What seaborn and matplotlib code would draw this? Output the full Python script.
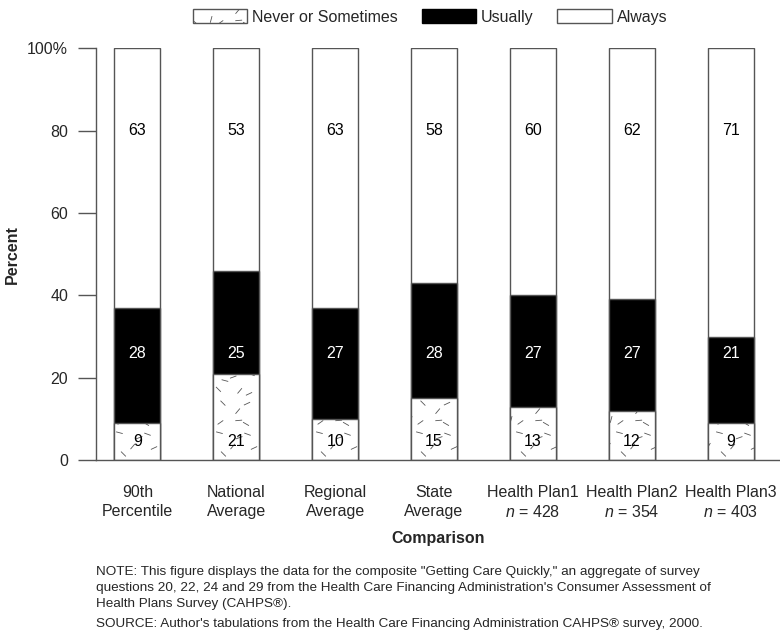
import warnings
warnings.filterwarnings("ignore")
import numpy as np
import pandas as pd
import matplotlib
matplotlib.use("Agg")
import matplotlib.pyplot as plt
import matplotlib.hatch as mhatch
from matplotlib.path import Path
from matplotlib.patches import Patch
import seaborn as sns

# ---------------- data ----------------
categories = ["90th\nPercentile", "National\nAverage", "Regional\nAverage", "State\nAverage",
              "Health Plan1\n$n$ = 428", "Health Plan2\n$n$ = 354", "Health Plan3\n$n$ = 403"]
never_sometimes = [9, 21, 10, 15, 13, 12, 9]
usually = [28, 25, 27, 28, 27, 27, 21]
always = [63, 53, 63, 58, 60, 62, 71]
series_names = ["Never or Sometimes", "Usually", "Always"]
yticks = [0, 20, 40, 60, 80, 100]
ytick_labels = ["0", "20", "40", "60", "80", "100%"]

note_text = ("NOTE: This figure displays the data for the composite \"Getting Care Quickly,\" an aggregate of survey\n"
             "questions 20, 22, 24 and 29 from the Health Care Financing Administration's Consumer Assessment of\n"
             "Health Plans Survey (CAHPS\u00ae).")
source_text = "SOURCE: Author's tabulations from the Health Care Financing Administration CAHPS\u00ae survey, 2000."

# ---------------- custom "scattered dash" texture (style only) ----------------
_ANGLES = [60, -30, 90, 20, -60, -45, 10, 75, -20, 0, 50, -70, 35, 80, -80, 25, -40, 5, 40, -15, 65]
_JIT = [0.02, -0.03, 0.04, -0.01, 0.03, -0.04, 0.01, -0.02, 0.035, -0.025, 0.015]
_DASHES = []
_k = 0
for _r in range(7):
    for _c in range(7):
        cx = (_c + 0.5) / 7 + _JIT[_k % len(_JIT)]
        cy = (_r + 0.5) / 7 + _JIT[(_k * 3 + 5) % len(_JIT)]
        _DASHES.append((cx, cy, _ANGLES[(_k * 5) % len(_ANGLES)]))
        _k += 1
_DLEN = 0.06


class _DashHatch(mhatch.HatchPatternBase):
    def __init__(self, hatch, density):
        self.num_vertices = 2 * len(_DASHES) if "~" in hatch else 0

    def set_vertices_and_codes(self, vertices, codes):
        for i, (cx, cy, ang) in enumerate(_DASHES):
            a = np.deg2rad(ang)
            dx, dy = 0.5 * _DLEN * np.cos(a), 0.5 * _DLEN * np.sin(a)
            vertices[2 * i] = (cx - dx, cy - dy)
            vertices[2 * i + 1] = (cx + dx, cy + dy)
            codes[2 * i] = Path.MOVETO
            codes[2 * i + 1] = Path.LINETO


mhatch._hatch_types.append(_DashHatch)
mhatch._validate_hatch_pattern = lambda h: None

# ---------------- style ----------------
sns.set_theme(style="white")
plt.rcParams["font.family"] = ["Liberation Sans", "DejaVu Sans"]
plt.rcParams["mathtext.fontset"] = "custom"
plt.rcParams["mathtext.it"] = "Liberation Sans:italic"
plt.rcParams["mathtext.rm"] = "Liberation Sans"
plt.rcParams["hatch.linewidth"] = 0.6
plt.rcParams["hatch.color"] = "black"

EDGE = "#555555"
FS = 11.5

df = pd.DataFrame({"cat": categories, "never": never_sometimes, "usually": usually, "always": always})
df["cum_usual"] = df["never"] + df["usually"]
df["total"] = 100  # percent bars

fig = plt.figure(figsize=(7.8, 6.33), dpi=100)
ax = fig.add_axes([0.123, 0.273, 0.877, 0.651])

common = dict(x="cat", order=categories, width=0.465, saturation=1, edgecolor=EDGE,
              linewidth=1.0, ax=ax, errorbar=None)
sns.barplot(data=df, y="total", color="white", **common)
sns.barplot(data=df, y="cum_usual", color="black", **common)
sns.barplot(data=df, y="never", color="white", hatch="~", **common)

# value labels
for i, row in df.iterrows():
    ax.text(i, 80, f"{row['always']}", ha="center", va="center", fontsize=FS, color="black")
    ax.text(i, 26, f"{row['usually']}", ha="center", va="center", fontsize=FS, color="white")
    ax.text(i, 4.5, f"{row['never']}", ha="center", va="center", fontsize=FS, color="black")

ax.set_xlim(-0.42, 6.5)
ax.set_ylim(0, 100)
ax.set_yticks(yticks)
ax.set_yticklabels(ytick_labels, fontsize=FS)
ax.tick_params(axis="y", left=True, length=13, width=1, color=EDGE, pad=7)
ax.tick_params(axis="x", bottom=False, length=0, pad=18, labelsize=FS)
for lab in ax.get_xticklabels():
    lab.set_linespacing(1.3)

for s in ["top", "right"]:
    ax.spines[s].set_visible(False)
for s in ["left", "bottom"]:
    ax.spines[s].set_color(EDGE)
    ax.spines[s].set_linewidth(1.0)

ax.set_ylabel("Percent", fontsize=FS, fontweight="bold", labelpad=5)
ax.set_xlabel("Comparison", fontsize=FS, fontweight="bold", labelpad=8)

handles = [Patch(facecolor="white", edgecolor=EDGE, hatch="~", linewidth=1.0),
           Patch(facecolor="black", edgecolor="black", linewidth=1.0),
           Patch(facecolor="white", edgecolor=EDGE, linewidth=1.0)]
fig.legend(handles, series_names, loc="center", bbox_to_anchor=(430 / 780, 1 - 17 / 633), ncol=3,
           frameon=False, fontsize=FS, handlelength=3.4, handleheight=0.95, handletextpad=0.3,
           columnspacing=1.5, borderpad=0.1)

fig.text(0.123, 1 - 566 / 633, note_text, ha="left", va="top", fontsize=9.7, linespacing=1.42)
fig.text(0.123, 1 - 618 / 633, source_text, ha="left", va="top", fontsize=9.7)

fig.savefig("out.png", dpi=100)
